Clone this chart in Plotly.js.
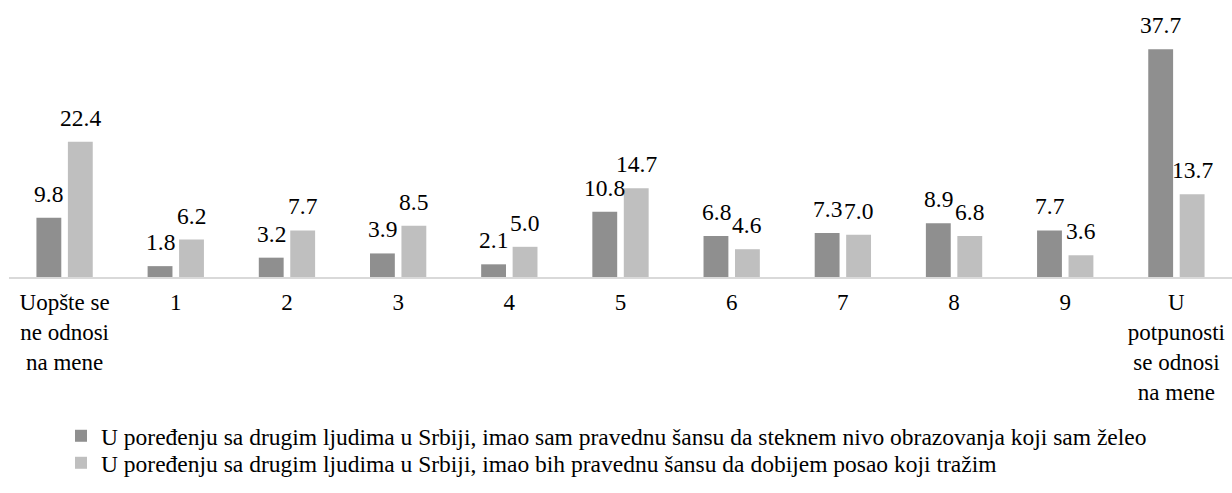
<!DOCTYPE html>
<html>
<head>
<meta charset="utf-8">
<script src="https://cdn.plot.ly/plotly-3.0.1.min.js"></script>
<style>html,body{margin:0;padding:0;background:#fff;}#chart{width:1232px;height:493px;}</style>
</head>
<body>
<div id="chart"></div>
<script>
const categories = ["Uopšte se<br>ne odnosi<br>na mene", "1", "2", "3", "4", "5", "6", "7", "8", "9", "U<br>potpunosti<br>se odnosi<br>na mene"];
const seriesNames = [
  "U poređenju sa drugim ljudima u Srbiji, imao sam pravednu šansu da steknem nivo obrazovanja koji sam želeo",
  "U poređenju sa drugim ljudima u Srbiji, imao bih pravednu šansu da dobijem posao koji tražim"
];
const educationValues = [9.8, 1.8, 3.2, 3.9, 2.1, 10.8, 6.8, 7.3, 8.9, 7.7, 37.7];
const jobValues = [22.4, 6.2, 7.7, 8.5, 5.0, 14.7, 4.6, 7.0, 6.8, 3.6, 13.7];
const colors = ["#8f8f8f", "#bfbfbf"];

const FONT = "Liberation Serif, Times New Roman, serif";
const allSeries = [educationValues, jobValues];
const legendIds = ["legend", "legend2"];

const traces = allSeries.map((vals, i) => ({
  type: "bar",
  name: seriesNames[i],
  x: categories,
  y: vals,
  marker: {color: colors[i]},
  legend: legendIds[i],
  hoverinfo: "none"
}));

const offsets = [-15.6, 15.6];
const annotations = [];
allSeries.forEach((vals, i) => {
  vals.forEach((v, j) => {
    annotations.push({
      x: j, y: v, xref: "x", yref: "y",
      text: v.toFixed(1), showarrow: false,
      xshift: offsets[i], yshift: 9, yanchor: "bottom",
      font: {family: FONT, size: 23.5, color: "#000"}
    });
  });
});

function legendAt(yPx) {
  return {
    orientation: "v",
    xref: "container", yref: "container",
    x: 61 / 1232, y: 1 - yPx / 493, xanchor: "left", yanchor: "middle",
    font: {family: FONT, size: 23.5, color: "#000"},
    bgcolor: "rgba(0,0,0,0)"
  };
}

const layout = {
  width: 1232, height: 493,
  margin: {l: 9, r: 0, t: 20, b: 216, autoexpand: false},
  paper_bgcolor: "#fff", plot_bgcolor: "#fff",
  barmode: "group",
  bargap: 0.434,
  bargroupgap: 0.21,
  font: {family: FONT, size: 23, color: "#000"},
  xaxis: {
    type: "category",
    showline: true, linecolor: "#d9d9d9", linewidth: 1.5,
    ticks: "", showgrid: false, zeroline: false,
    tickangle: 0,
    ticklabelstandoff: 4,
    tickfont: {family: FONT, size: 23, color: "#000"},
    automargin: false
  },
  yaxis: {
    range: [0, 42.55], visible: false, showgrid: false, zeroline: false
  },
  showlegend: true,
  legend: legendAt(436),
  legend2: legendAt(463),
  annotations: annotations
};

Plotly.newPlot("chart", traces, layout, {displayModeBar: false, staticPlot: true});
</script>
</body>
</html>
